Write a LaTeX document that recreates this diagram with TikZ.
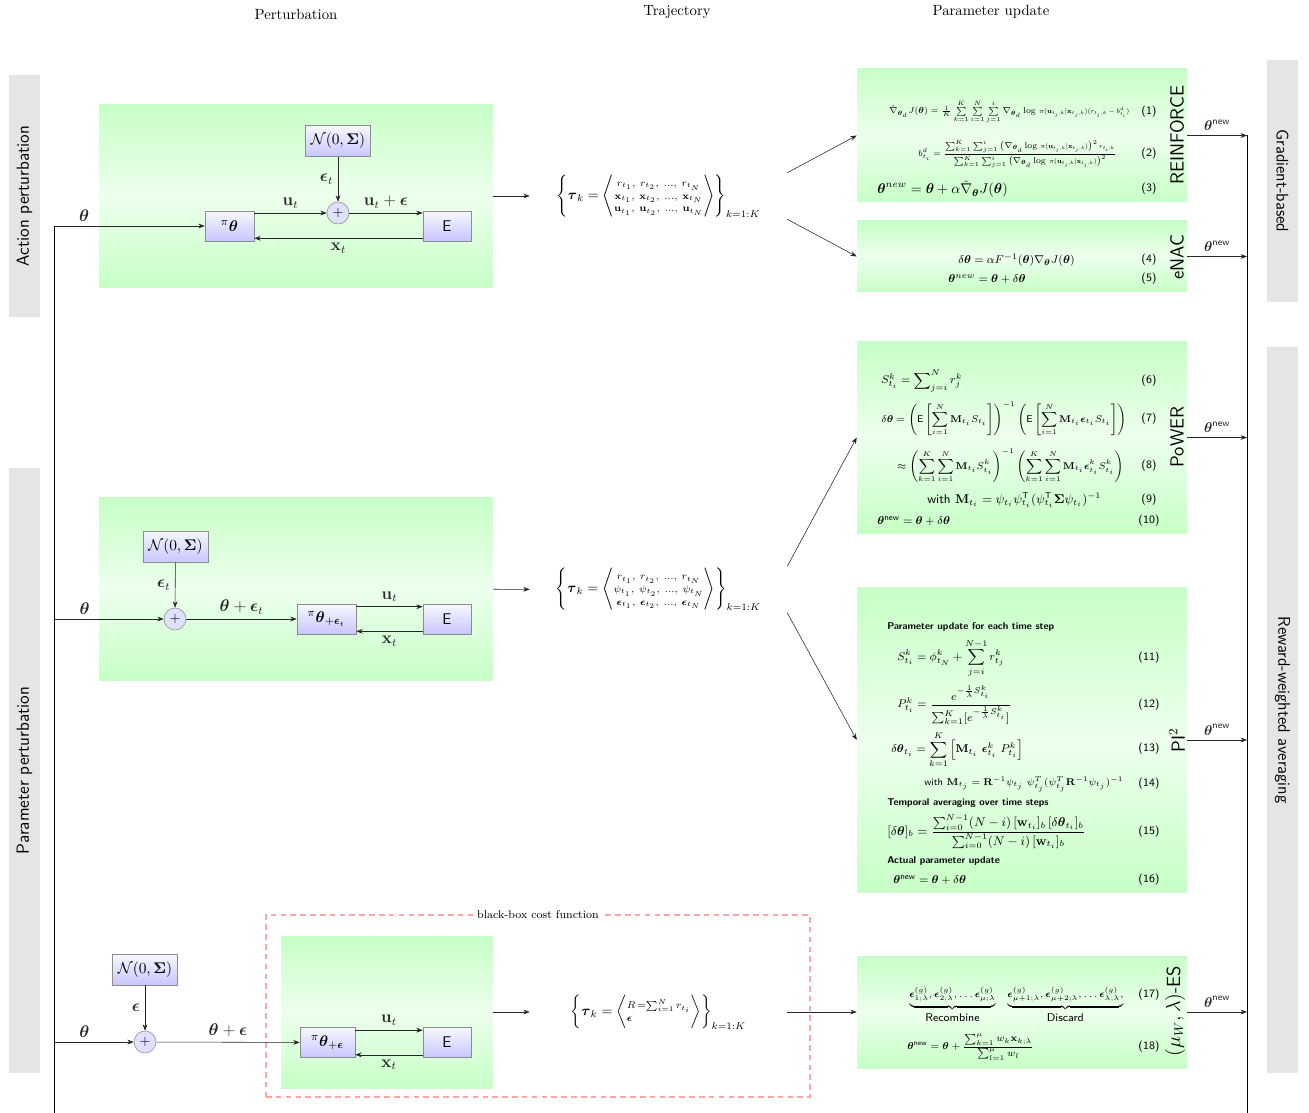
\documentclass[tikz,border=0pt]{standalone}
\usepackage{amsmath}
\usepackage{amssymb}
\usepackage{graphicx}
\usepackage{tikz}
\usetikzlibrary{positioning,arrows.meta,calc,fit}

% very small policy term inside the REINFORCE formulas
\newcommand{\tinyterm}[1]{\scalebox{0.78}{$#1$}}

\begin{document}
\begin{tikzpicture}[
    x=0.25mm, y=-0.25mm,
    font=\normalsize,
    greenbox/.style={draw=none, top color=green!22, bottom color=green!22,
                     middle color=green!7, inner sep=0pt},
    eqbox/.style={greenbox, minimum width=82.5mm},
    block/.style={draw=black!45, top color=blue!3, bottom color=blue!22,
                  minimum width=12mm, minimum height=7.5mm, inner sep=1pt,
                  font=\fontsize{11}{13}\selectfont\sffamily},
    sumnode/.style={draw=black!45, circle, fill=blue!12, minimum size=5.5mm,
                    inner sep=0pt},
    arr/.style={->, >={Stealth[length=1.6mm, width=1.2mm]}, black!85},
    bar/.style={fill=black!10, minimum height=7.75mm, inner sep=0pt,
                font=\fontsize{12.5}{15}\selectfont\sffamily},
    costbox/.style={draw=red!35, dashed, line width=0.9pt,
                    dash pattern=on 4pt off 3pt},
    traj/.style={minimum width=64.25mm, minimum height=11.5mm, inner sep=0pt,
                 font=\normalsize},
    eq/.style={anchor=west, inner sep=0pt, font=\footnotesize\sffamily},
    eqno/.style={inner sep=0pt, font=\footnotesize\sffamily},
    head/.style={anchor=west, inner sep=0pt, font=\scriptsize\sffamily\bfseries},
    algo/.style={rotate=90, inner sep=0pt, font=\fontsize{13.5}{16}\selectfont\sffamily},
    ttl/.style={font=\fontsize{10.5}{12}\selectfont},
    lbl/.style={font=\large},
  ]
  \useasboundingbox (0,0) rectangle (1309,1113);

  % ============================== Headers =================================
  \node[ttl] (hPert) at (296,14) {Perturbation};
  \node[ttl] (hTraj) at (677,12) {Trajectory};
  \node[ttl] (hUpd)  at (991,12) {Parameter update};

  % ============================== Side bars ===============================
  \node[bar, rotate=90, minimum width=60.5mm]   (sAct)  at (24.5,196)   {Action perturbation};
  \node[bar, rotate=90, minimum width=151.25mm] (sPar)  at (24.5,770.5) {Parameter perturbation};
  \node[bar, rotate=-90, minimum width=60.5mm, font=\large\sffamily]  (sGrad) at (1282.5,181) {Gradient-based};
  \node[bar, rotate=-90, minimum width=181.5mm, font=\large\sffamily] (sRwa)  at (1282.5,710) {Reward-weighted averaging};

  % ============================== Panel A =================================
  % Action perturbation: noise added to the action u_t.
  \node[greenbox, minimum width=98.5mm, minimum height=45.5mm] (blkA) at (296,196) {};
  \node[block, minimum width=16.25mm, minimum height=7.75mm] (noiseA) at (338,141)
    {$\mathcal{N}(0,\boldsymbol{\Sigma})$};
  \node[sumnode] (sumA) at (338,213) {$+$};
  \node[block, minimum width=12.25mm] (polA) at (229.5,226) {${}^{\pi}\boldsymbol{\theta}$};
  \node[block] (envA) at (447,226) {E};
  \coordinate (inA) at (54,226);

  \draw[arr] (inA) -- node[lbl, above, pos=0.2] {$\boldsymbol{\theta}$} (polA);
  \draw[arr] (noiseA) -- node[lbl, left] {$\boldsymbol{\epsilon}_t$} (sumA);
  \draw[arr] (polA.east |- sumA) -- node[lbl, above] {$\mathbf{u}_t$} (sumA);
  \draw[arr] (sumA) -- node[lbl, above] {$\mathbf{u}_t + \boldsymbol{\epsilon}$} (envA.west |- sumA);
  \draw[arr] ([yshift=0.75mm]envA.south west) -- node[lbl, below] {$\mathbf{x}_t$}
    ([yshift=0.75mm]polA.south east);

  \node[traj] (trajA) at (658.5,196)
    {$\left\{\boldsymbol{\tau}_k = \left\langle\begin{array}{@{}c@{}}
      \scriptstyle r_{t_1},\ r_{t_2},\ \dots,\ r_{t_N}\\[-3pt]
      \scriptstyle \mathbf{x}_{t_1},\ \mathbf{x}_{t_2},\ \dots,\ \mathbf{x}_{t_N}\\[-3pt]
      \scriptstyle \mathbf{u}_{t_1},\ \mathbf{u}_{t_2},\ \dots,\ \mathbf{u}_{t_N}
    \end{array}\right\rangle\right\}_{k=1:K}$};
  \draw[arr] (blkA) -- (trajA);

  % ============================== Panel B =================================
  % Parameter perturbation: noise added to theta, policy run as usual.
  \node[greenbox, minimum width=98.5mm, minimum height=45.5mm] (blkB) at (296,589) {};
  \node[block, minimum width=16.25mm, minimum height=7.75mm] (noiseB) at (175.5,546.5)
    {$\mathcal{N}(0,\boldsymbol{\Sigma})$};
  \node[sumnode] (sumB) at (175,619) {$+$};
  \node[block, minimum width=14.75mm] (polB) at (326.5,619)
    {${}^{\pi}\boldsymbol{\theta}_{+\boldsymbol{\epsilon}_t}$};
  \node[block] (envB) at (447,619) {E};
  \coordinate (inB) at (54,619);

  \draw[arr] (inB) -- node[lbl, above, pos=0.28] {$\boldsymbol{\theta}$} (sumB);
  \draw[arr] (noiseB) -- node[lbl, left] {$\boldsymbol{\epsilon}_t$} (sumB);
  \draw[arr] (sumB) -- node[lbl, above] {$\boldsymbol{\theta} + \boldsymbol{\epsilon}_t$} (polB);
  \draw[arr] ([yshift=-0.75mm]polB.north east) -- node[lbl, above] {$\mathbf{u}_t$}
    ([yshift=-0.75mm]envB.north west);
  \draw[arr] ([yshift=0.75mm]envB.south west) -- node[lbl, below] {$\mathbf{x}_t$}
    ([yshift=0.75mm]polB.south east);

  \node[traj] (trajB) at (658.5,589.5)
    {$\left\{\boldsymbol{\tau}_k = \left\langle\begin{array}{@{}c@{}}
      \scriptstyle r_{t_1},\ r_{t_2},\ \dots,\ r_{t_N}\\[-3pt]
      \scriptstyle \psi_{t_1},\ \psi_{t_2},\ \dots,\ \psi_{t_N}\\[-3pt]
      \scriptstyle \boldsymbol{\epsilon}_{t_1},\ \boldsymbol{\epsilon}_{t_2},\ \dots,\ \boldsymbol{\epsilon}_{t_N}
    \end{array}\right\rangle\right\}_{k=1:K}$};
  \draw[arr] (blkB) -- (trajB);

  % ============================== Panel C =================================
  % Black-box: one return R per rollout.
  \node[costbox, minimum width=136mm, minimum height=45.5mm] (cost) at (538,1006) {};
  \node[fill=white, inner sep=2pt, font=\footnotesize] (costLbl) at (cost.north)
    {black-box cost function};
  \node[greenbox, minimum width=53mm, minimum height=38mm] (blkC) at (387,1012) {};
  \node[block, minimum width=16.25mm, minimum height=7.75mm] (noiseC) at (145,969.5)
    {$\mathcal{N}(0,\boldsymbol{\Sigma})$};
  \node[sumnode] (sumC) at (145,1042) {$+$};
  \node[block, minimum width=13.75mm] (polC) at (327.5,1042.5)
    {${}^{\pi}\boldsymbol{\theta}_{+\boldsymbol{\epsilon}}$};
  \node[block] (envC) at (447,1042.5) {E};
  \coordinate (inC) at (54,1042);

  \draw[arr] (inC) -- node[lbl, above, pos=0.38] {$\boldsymbol{\theta}$} (sumC);
  \draw[arr] (noiseC) -- node[lbl, left] {$\boldsymbol{\epsilon}$} (sumC);
  \draw[arr] (sumC) -- node[lbl, above] {$\boldsymbol{\theta} + \boldsymbol{\epsilon}$} (polC);
  \draw[arr] ([yshift=-0.75mm]polC.north east) -- node[lbl, above] {$\mathbf{u}_t$}
    ([yshift=-0.75mm]envC.north west);
  \draw[arr] ([yshift=0.75mm]envC.south west) -- node[lbl, below] {$\mathbf{x}_t$}
    ([yshift=0.75mm]polC.south east);

  \node[traj] (trajC) at (658.5,1012)
    {$\left\{\boldsymbol{\tau}_k = \left\langle\begin{array}{@{}l@{}}
      \scriptstyle R\,=\sum_{i=1}^{N} r_{t_i}\\[-3pt]
      \scriptstyle\boldsymbol{\epsilon}
    \end{array}\right\rangle\right\}_{k=1:K}$};
  \draw[arr] (blkC) -- (trajC);

  % theta comes in from below
  \coordinate (inBot) at (54,1113);
  \draw (inA) -- (inBot);

  % ============================== Updates =================================
  \node[eqbox, minimum height=33.25mm] (reinf) at (1022,135.5) {};
  \node[eqbox, minimum height=17.75mm] (enac)  at (1022,256.5) {};
  \node[eqbox, minimum height=47.75mm] (power) at (1022,437.5) {};
  \node[eqbox, minimum height=76mm]    (pitwo) at (1022,740)   {};
  \node[eqbox, minimum height=28mm]    (es)    at (1022,1012)  {};

  \draw[arr] (trajA.north east) -- (reinf.west);
  \draw[arr] (trajA.south east) -- (enac.west);
  \draw[arr] (trajB.north east) -- (power.west);
  \draw[arr] (trajB.south east) -- (pitwo.west);
  \draw[arr] (trajC.east) -- (es.west);

  % REINFORCE
  \node[eq, font=\scriptsize\sffamily] (e1) at (889,112) {\resizebox{60mm}{!}{$\hat{\nabla}_{\boldsymbol{\theta}_d} J(\boldsymbol{\theta})
    = \frac{1}{K}\sum\limits_{k=1}^{K}\sum\limits_{i=1}^{N}\sum\limits_{j=1}^{i}
    \nabla_{\boldsymbol{\theta}_d}\log\,
    \tinyterm{\pi(\mathbf{u}_{t_j,k}|\mathbf{x}_{t_j,k})(r_{t_j,k}-b^d_{t_i})}$}};
  \node[eq, font=\scriptsize\sffamily] (e2) at (918,154) {\resizebox{49.5mm}{!}{$b^d_{t_i} = \dfrac{\sum_{k=1}^{K}\sum_{j=1}^{i}
    \left(\nabla_{\boldsymbol{\theta}_d}\log\,
    \tinyterm{\pi(\mathbf{u}_{t_j,k}|\mathbf{x}_{t_j,k})}\right)^{2} \tinyterm{r_{t_i,k}}}
    {\sum_{k=1}^{K}\sum_{j=1}^{i}\left(\nabla_{\boldsymbol{\theta}_d}\log\,
    \tinyterm{\pi(\mathbf{u}_{t_j,k}|\mathbf{x}_{t_j,k})}\right)^{2}}$}};
  \node[eq, font=\normalsize\sffamily] (e3) at (877,189) {$\boldsymbol{\theta}^{new} = \boldsymbol{\theta}
    + \alpha\hat{\nabla}_{\boldsymbol{\theta}} J(\boldsymbol{\theta})$};
  \node[algo] (aReinf) at (1177,135) {REINFORCE};

  % eNAC
  \node[eq] (e4) at (958,260) {$\delta\boldsymbol{\theta} = \alpha F^{-1}(\boldsymbol{\theta})
    \nabla_{\boldsymbol{\theta}} J(\boldsymbol{\theta})$};
  \node[eq] (e5) at (948,279) {$\boldsymbol{\theta}^{new} = \boldsymbol{\theta} + \delta\boldsymbol{\theta}$};
  \node[algo] (aEnac) at (1177,257) {eNAC};

  % PoWER
  \node[eq] (e6) at (881,381) {$\displaystyle S^k_{t_i} = \sum\nolimits_{j=i}^{N} r^k_j$};
  \node[eq, font=\fontsize{7.5}{9}\selectfont\sffamily] (e7) at (881,419) {$\displaystyle \delta\boldsymbol{\theta} =
    \left(\mathsf{E}\left[\sum_{i=1}^{N}\mathbf{M}_{t_i}S_{t_i}\right]\right)^{-1}
    \left(\mathsf{E}\left[\sum_{i=1}^{N}\mathbf{M}_{t_i}\boldsymbol{\epsilon}_{t_i}S_{t_i}\right]\right)$};
  \node[eq, font=\fontsize{7.5}{9}\selectfont\sffamily] (e8) at (897,466) {$\displaystyle \approx
    \left(\sum_{k=1}^{K}\sum_{i=1}^{N}\mathbf{M}_{t_i}S^k_{t_i}\right)^{-1}
    \left(\sum_{k=1}^{K}\sum_{i=1}^{N}\mathbf{M}_{t_i}\boldsymbol{\epsilon}^k_{t_i}S^k_{t_i}\right)$};
  \node[eq, font=\small\sffamily] (e9) at (927,500) {with $\mathbf{M}_{t_i} = \psi_{t_i}\psi_{t_i}^{\mathsf{T}}
    (\psi_{t_i}^{\mathsf{T}}\boldsymbol{\Sigma}\psi_{t_i})^{-1}$};
  \node[eq] (e10) at (877,521) {$\boldsymbol{\theta}^{\text{new}} = \boldsymbol{\theta} + \delta\boldsymbol{\theta}$};
  \node[algo] (aPower) at (1177,437) {PoWER};

  % PI^2
  \node[head] (hStep) at (887,627) {Parameter update for each time step};
  \node[eq] (e11) at (897,658) {$\displaystyle S^k_{t_i} = \phi^k_{t_N} + \sum_{j=i}^{N-1} r^k_{t_j}$};
  \node[eq] (e12) at (897,705) {$\displaystyle P^k_{t_i} = \frac{e^{-\frac{1}{\lambda}S^k_{t_i}}}
    {\sum_{k=1}^{K}[e^{-\frac{1}{\lambda}S^k_{t_i}}]}$};
  \node[eq] (e13) at (891,750) {$\displaystyle \delta\boldsymbol{\theta}_{t_i} = \sum_{k=1}^{K}
    \left[\mathbf{M}_{t_i}\ \boldsymbol{\epsilon}^k_{t_i}\ P^k_{t_i}\right]$};
  \node[eq, font=\scriptsize\sffamily] (e14) at (924,784) {with $\mathbf{M}_{t_j} = \mathbf{R}^{-1}\psi_{t_j}\
    \psi_{t_j}^{T}(\psi_{t_j}^{T}\mathbf{R}^{-1}\psi_{t_j})^{-1}$};
  \node[head] (hAvg) at (887,803) {Temporal averaging over time steps};
  \node[eq, font=\fontsize{8.6}{10}\selectfont\sffamily] (e15) at (887,832) {$\displaystyle [\delta\boldsymbol{\theta}]_b =
    \frac{\sum_{i=0}^{N-1}(N-i)\,[\mathbf{w}_{t_i}]_b\,[\delta\boldsymbol{\theta}_{t_i}]_b}
    {\sum_{i=0}^{N-1}(N-i)\,[\mathbf{w}_{t_i}]_b}$};
  \node[head] (hAct) at (887,861) {Actual parameter update};
  \node[eq] (e16) at (893,880) {$\boldsymbol{\theta}^{\text{new}} = \boldsymbol{\theta} + \delta\boldsymbol{\theta}$};
  \node[algo] (aPi) at (1177,740) {PI$^2$};

  % (mu_W, lambda)-ES
  \node[eq, font=\scriptsize\sffamily] (e17) at (909,1005) {$\underbrace{\boldsymbol{\epsilon}^{(g)}_{1;\lambda},
    \boldsymbol{\epsilon}^{(g)}_{2;\lambda},\ldots\boldsymbol{\epsilon}^{(g)}_{\mu;\lambda}}_{\mbox{\footnotesize Recombine}}
    \quad\underbrace{\boldsymbol{\epsilon}^{(g)}_{\mu+1;\lambda},\boldsymbol{\epsilon}^{(g)}_{\mu+2;\lambda},
    \ldots\boldsymbol{\epsilon}^{(g)}_{\lambda;\lambda},}_{\mbox{\footnotesize Discard}}$};
  \node[eq, font=\fontsize{7.5}{9}\selectfont\sffamily] (e18) at (907,1047) {$\boldsymbol{\theta}^{\text{new}} = \boldsymbol{\theta} +
    \dfrac{\sum_{k=1}^{\mu} w_k\mathbf{x}_{k;\lambda}}{\sum_{l=1}^{\mu} w_l}$};
  \node[algo] (aEs) at (1175,1011) {$(\mu_W,\lambda)$-ES};

  \foreach \y/\n in {112/1, 154/2, 189/3, 260/4, 279/5, 381/6, 419/7, 466/8, 500/9,
                     521/10, 658/11, 705/12, 749/13, 784/14, 832/15, 880/16, 995/17, 1047/18}
    \node[eqno] (no\n) at (1149,\y) {(\n)};

  % ============================== Output ==================================
  \coordinate (outTop) at (1247,135.5);
  \coordinate (outBot) at (1247,1113);
  \draw (outTop) -- (outBot);
  \foreach \b in {reinf, enac, power, pitwo, es}
    \draw[arr] (\b.east) -- node[above] {$\boldsymbol{\theta}^{\textsf{new}}$} (\b.east -| outTop);
\end{tikzpicture}
\end{document}
